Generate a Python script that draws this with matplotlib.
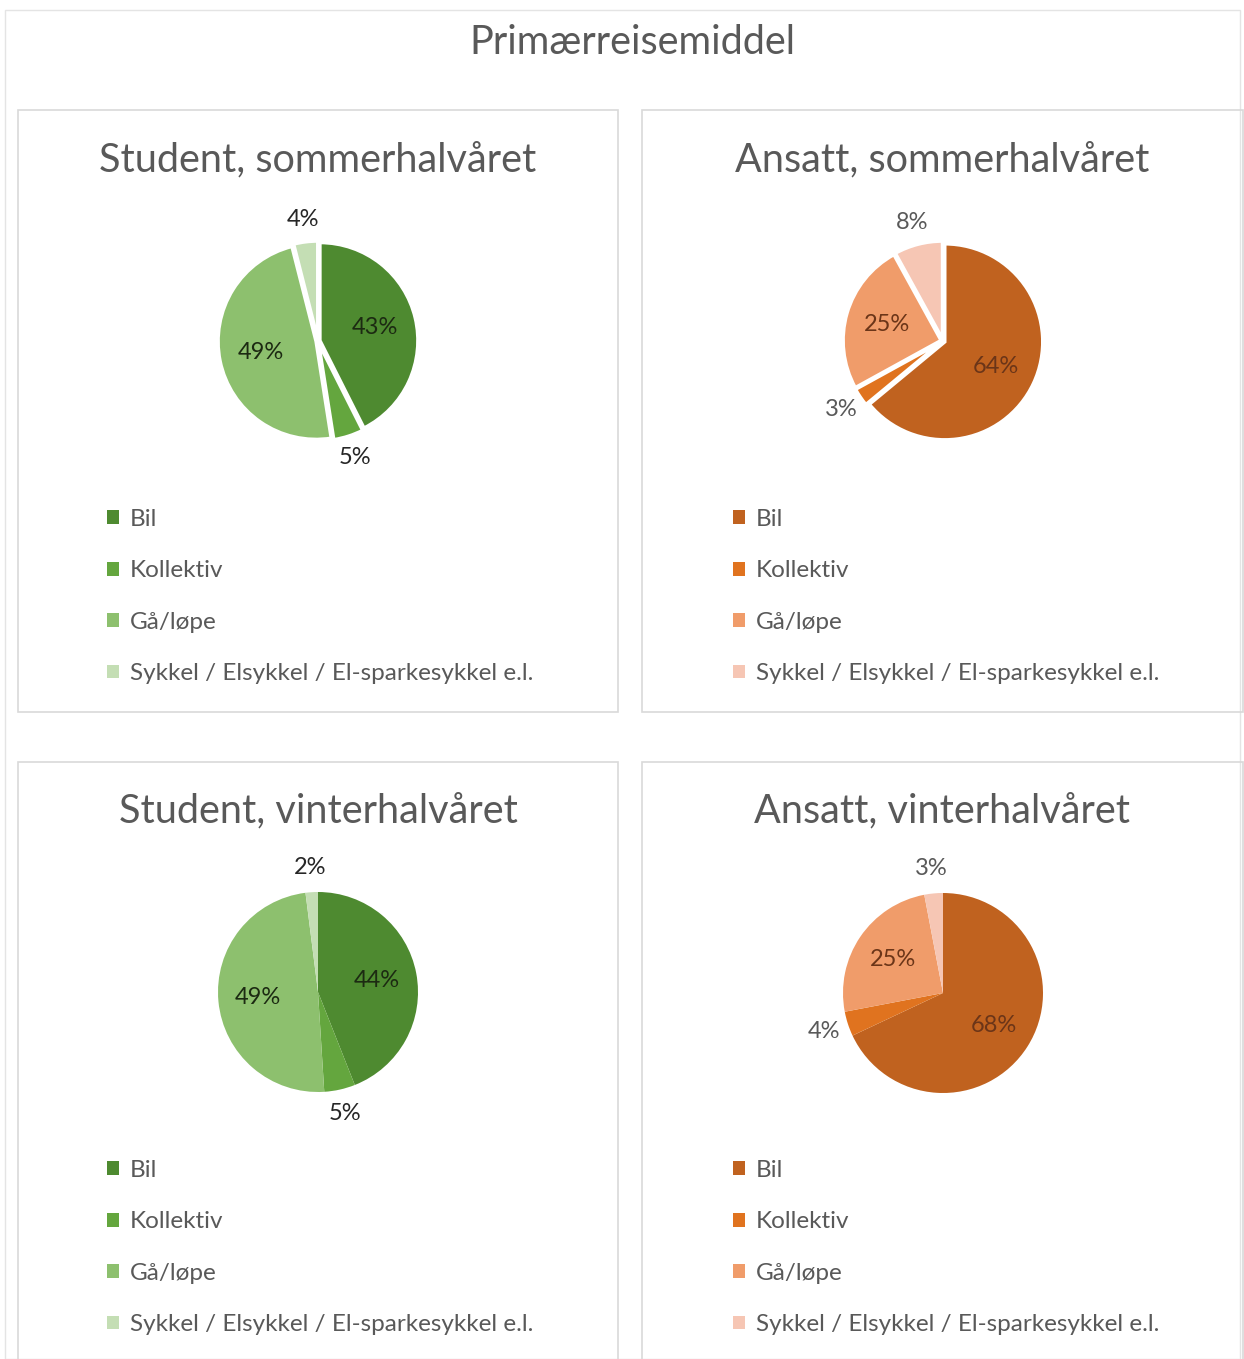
import matplotlib.pyplot as plt
import numpy as np
from matplotlib.patches import Rectangle, Patch

plt.rcParams['font.family'] = ['Lato', 'DejaVu Sans']

W, H = 1244, 1359

categories = ["Bil", "Kollektiv", "Gå/løpe", "Sykkel / Elsykkel / El-sparkesykkel e.l."]

titles = ["Student, sommerhalvåret", "Ansatt, sommerhalvåret",
          "Student, vinterhalvåret", "Ansatt, vinterhalvåret"]
student_summer = [43, 5, 49, 4]
ansatt_summer = [64, 3, 25, 8]
student_winter = [44, 5, 49, 2]
ansatt_winter = [68, 4, 25, 3]

green = ["#4e8a30", "#64a63e", "#8dc06e", "#c4deb4"]
orange = ["#c0621f", "#e0731f", "#f09c6a", "#f6c6b4"]


def fx(x):
    return x / W


def fy(y):
    return 1 - y / H


fig = plt.figure(figsize=(W / 100, H / 100), dpi=100)

# outer frame and main title
fig.patches.append(Rectangle((fx(5), 0), fx(1235), 1 - 10 / H,
                             transform=fig.transFigure, fill=False, ec="#e4e4e4", lw=1))
fig.text(fx(632), fy(42), "Primærreisemiddel", ha="center", va="center",
         fontsize=28.5, color="#595959")

panels = [
    dict(box=(18, 110, 618, 712), cx=318, cy=341, r=98, ty=160, data=student_summer,
         colors=green, inner="#1c2a12", outer="#262626", gap=True, lx=107, ly=509),
    dict(box=(642, 110, 1243, 712), cx=943, cy=341, r=98, ty=160, data=ansatt_summer,
         colors=orange, inner="#6b3518", outer="#595959", gap=True, lx=733, ly=509),
    dict(box=(18, 762, 618, 1400), cx=318, cy=992, r=100, ty=811, data=student_winter,
         colors=green, inner="#1c2a12", outer="#262626", gap=False, lx=107, ly=1160),
    dict(box=(642, 762, 1243, 1400), cx=943, cy=993, r=100, ty=811, data=ansatt_winter,
         colors=orange, inner="#6b3518", outer="#595959", gap=False, lx=733, ly=1160),
]

for title, p in zip(titles, panels):
    x0, y0, x1, y1 = p["box"]
    fig.patches.append(Rectangle((fx(x0), fy(y1)), fx(x1 - x0), (y1 - y0) / H,
                                 transform=fig.transFigure, fill=False, ec="#d9d9d9", lw=1.2))
    fig.text(fx((x0 + x1) / 2), fy(p["ty"]), title, ha="center", va="center",
             fontsize=28.5, color="#595959")

    half = p["r"] * 1.6
    ax = fig.add_axes([fx(p["cx"] - half), fy(p["cy"] + half), fx(2 * half), 2 * half / H])

    vals = p["data"]
    if p["gap"]:
        wedges, _ = ax.pie(vals, colors=p["colors"], startangle=90, counterclock=False,
                           explode=[0.02] * 4, wedgeprops=dict(edgecolor="white", linewidth=2.5))
    else:
        wedges, _ = ax.pie(vals, colors=p["colors"], startangle=90, counterclock=False,
                           wedgeprops=dict(edgecolor="none"))
    ax.set_xlim(-1.6, 1.6)
    ax.set_ylim(-1.6, 1.6)
    ax.set_aspect("equal")
    ax.axis("off")

    for w, v in zip(wedges, vals):
        ang = np.deg2rad((w.theta1 + w.theta2) / 2)
        if v < 10:
            d, c = 1.25, p["outer"]
        else:
            d, c = 0.6, p["inner"]
        ax.text(d * np.cos(ang), d * np.sin(ang), f"{v}%", ha="center", va="center",
                fontsize=17, color=c)

    handles = [Patch(facecolor=c, edgecolor="none") for c in p["colors"]]
    fig.legend(handles, categories, loc="upper left",
               bbox_to_anchor=(fx(p["lx"]), fy(p["ly"])), frameon=False,
               fontsize=17.5, labelcolor="#595959", handlelength=0.5, handleheight=0.5,
               handletextpad=0.45, labelspacing=1.25, borderpad=0, borderaxespad=0)

fig.savefig("out.png", dpi=100, facecolor="white")
